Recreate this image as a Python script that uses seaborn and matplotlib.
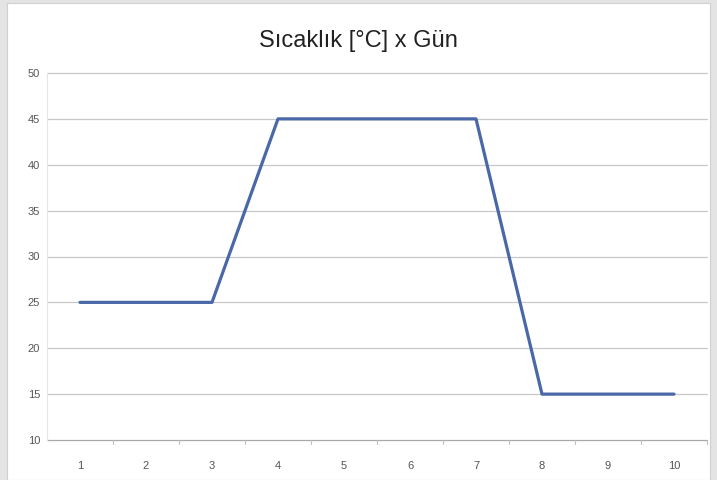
import pandas as pd
import seaborn as sns
import matplotlib.pyplot as plt
from matplotlib.patches import Rectangle

# Data
days = [1, 2, 3, 4, 5, 6, 7, 8, 9, 10]
temps = [25, 25, 25, 45, 45, 45, 45, 15, 15, 15]
yticks = [10, 15, 20, 25, 30, 35, 40, 45, 50]

df = pd.DataFrame({'gun': days, 'sicaklik': temps})

sns.set_style('white')
plt.rcParams['font.family'] = ['Liberation Sans', 'DejaVu Sans']

fig = plt.figure(figsize=(7.17, 4.8), dpi=100, facecolor='#e4e4e4')
# white panel inside the gray frame
fig.patches.append(Rectangle((7 / 717, 0), 703 / 717, 477 / 480,
                             transform=fig.transFigure, facecolor='white',
                             edgecolor='#d0d0d0', linewidth=0.8, zorder=-5))

ax = fig.add_axes([47 / 717, 40 / 480, 660 / 717, 367 / 480])
ax.set_facecolor('white')

# Grid
for y in yticks:
    ax.axhline(y, color='#c8c8c8' if y != 10 else '#a8a8a8', lw=0.9,
               zorder=1, clip_on=False)

sns.lineplot(data=df, x='gun', y='sicaklik', color='#4a68a8', linewidth=2.3,
             ax=ax, zorder=3)

ax.set_xlim(0.5, 10.5)
ax.set_ylim(10, 50)
ax.set_xticks(days)
ax.set_yticks(yticks)
ax.tick_params(axis='both', length=0, labelsize=8, labelcolor='#555555')
ax.tick_params(axis='x', pad=15)
ax.tick_params(axis='y', pad=5)
ax.set_xlabel('')
ax.set_ylabel('')

# small separator ticks on the category axis
for b in [1.5, 2.5, 3.5, 4.5, 5.5, 6.5, 7.5, 8.5, 9.5, 10.5]:
    ax.plot([b, b], [10, 9.6], color='#c0c0c0', lw=0.8, clip_on=False)

for s in ['top', 'right', 'bottom']:
    ax.spines[s].set_visible(False)
ax.spines['left'].set_color('#e6e6e6')
ax.spines['left'].set_linewidth(0.8)

fig.text(0.5, 1 - 41 / 480, 'Sıcaklık [°C] x Gün', ha='center', va='center',
         fontsize=17, color='#222222')

fig.savefig('out.png', dpi=100, facecolor=fig.get_facecolor())
